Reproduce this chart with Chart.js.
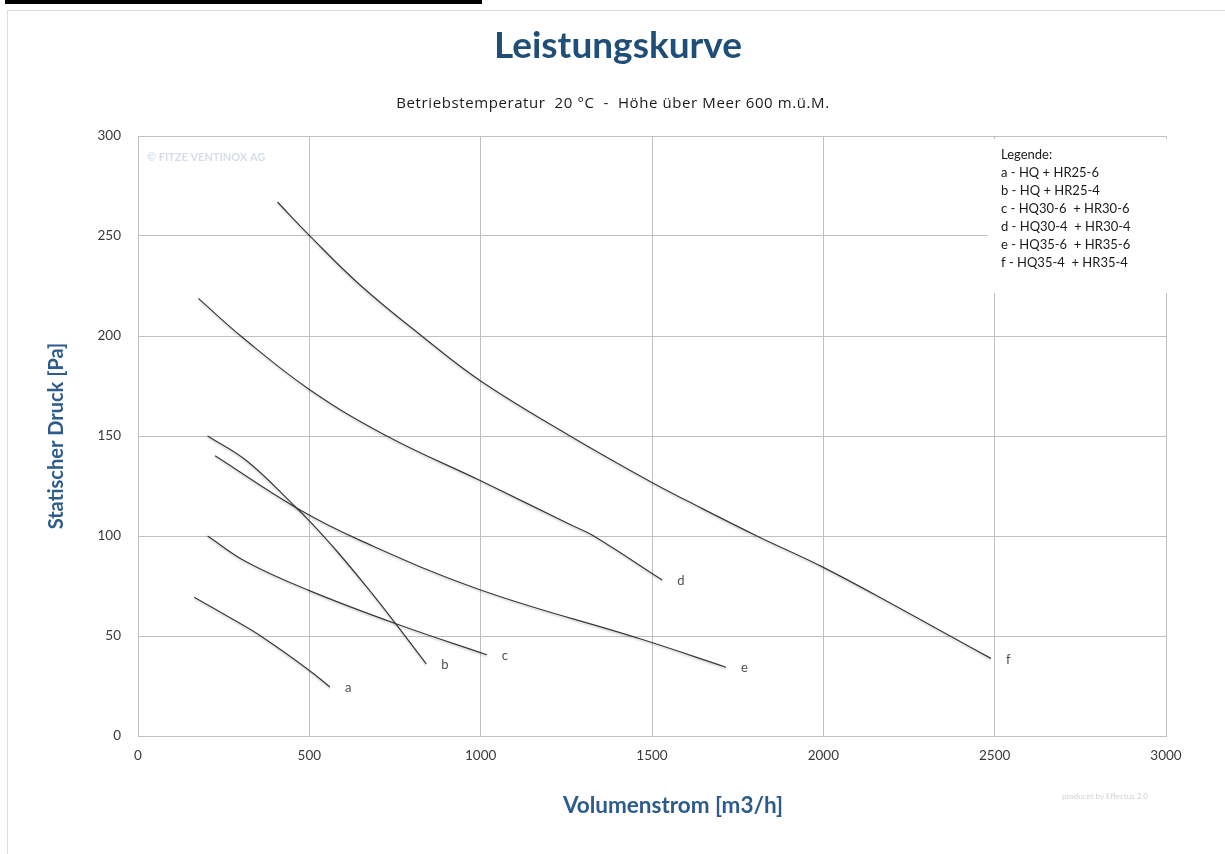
<!DOCTYPE html>
<html>
<head>
  <script src="https://cdn.jsdelivr.net/npm/chart.js@4.4.1/dist/chart.umd.min.js"></script>
  <style>
    * { margin: 0; padding: 0; box-sizing: border-box; }
    body { background: #fff; width: 1225px; height: 854px; overflow: hidden; position: relative; font-family: Lato, sans-serif; }
    .topbar { position: absolute; left: 5px; top: 0; width: 477px; height: 4px; background: #000; }
    .frame { position: absolute; left: 7px; top: 10px; width: 1230px; height: 860px; border-left: 1px solid #dedede; border-top: 1px solid #dedede; }
    #chart { position: absolute; left: 0; top: 0; }
    .title { position: absolute; left: 0; top: 22px; width: 1236px; text-align: center; font: bold 37px/44px Lato, sans-serif; color: #1f4e79; }
    .subtitle { position: absolute; left: 0; top: 92px; width: 1226px; text-align: center; font: 15px/20px "Open Sans", sans-serif; letter-spacing: 0.6px; color: #1a1a1a; white-space: pre; }
  </style>
</head>
<body>
  <div class="topbar"></div>
  <div class="frame"></div>
  <canvas id="chart" width="1225" height="854"></canvas>
  <div class="title">Leistungskurve</div>
  <div class="subtitle">Betriebstemperatur  20 °C  -  Höhe über Meer 600 m.ü.M.</div>

  <script>
    // Volumenstrom [m3/h] / statischer Druck [Pa]
    const curveNames = ['a', 'b', 'c', 'd', 'e', 'f'];

    const aX = [164, 283, 356, 500, 560];
    const aY = [69.4, 57.7, 50.2, 32.8, 24.5];

    const bX = [203, 317, 463, 500, 580, 668, 745, 841];
    const bY = [150, 137.6, 114, 107.6, 92.5, 74.4, 57.7, 36.1];

    const cX = [203, 317, 500, 755, 1018];
    const cY = [100, 87, 72.7, 56, 40.6];

    const dX = [176, 300, 500, 726, 1000, 1270, 1330, 1530];
    const dY = [218.8, 200, 173.3, 150, 127.6, 105, 100, 78];

    const eX = [225, 463, 650, 1000, 1465, 1716];
    const eY = [140.1, 114, 97.7, 73, 48.6, 34.4];

    const fX = [407, 500, 648, 828, 1000, 1261, 1500, 1602, 1806, 2000, 2244, 2370, 2489];
    const fY = [267, 250.3, 225.5, 200, 177.5, 150, 126.7, 117.6, 100, 84.3, 61.9, 50, 38.8];

    const legendLines = [
      'Legende:',
      'a - HQ + HR25-6',
      'b - HQ + HR25-4',
      'c - HQ30-6  + HR30-6',
      'd - HQ30-4  + HR30-4',
      'e - HQ35-6  + HR35-6',
      'f - HQ35-4  + HR35-4'
    ];

    const xs = [aX, bX, cX, dX, eX, fX];
    const ys = [aY, bY, cY, dY, eY, fY];

    const blue = '#2c5b8c';
    const gridColor = '#c0c0c0';

    const datasets = curveNames.map((name, i) => ({
      label: name,
      data: xs[i].map((x, j) => ({ x: x, y: ys[i][j] })),
      borderColor: '#363636',
      borderWidth: 1.2,
      pointRadius: 0,
      fill: false,
      tension: 0.4
    }));

    // Buchstaben am Kurvenende, Legende, Wasserzeichen, x-Titel
    const extras = {
      id: 'extras',
      beforeDatasetsDraw(chart) {
        const ctx = chart.ctx;
        ctx.save();
        ctx.shadowColor = 'rgba(0,0,0,0.22)';
        ctx.shadowBlur = 2;
        ctx.shadowOffsetY = 1.5;
      },
      afterDatasetsDraw(chart) {
        chart.ctx.restore();
      },
      afterDraw(chart) {
        const ctx = chart.ctx;
        const area = chart.chartArea;
        ctx.save();

        // watermark
        ctx.font = 'bold 11px Lato';
        ctx.fillStyle = '#d4dde9';
        ctx.textBaseline = 'middle';
        ctx.textAlign = 'left';
        ctx.fillText('© FITZE VENTINOX AG', area.left + 9, area.top + 21);

        // curve letters
        ctx.font = '13px Lato';
        ctx.fillStyle = '#505050';
        chart.data.datasets.forEach((ds, i) => {
          const pts = chart.getDatasetMeta(i).data;
          const last = pts[pts.length - 1];
          ctx.fillText(ds.label, last.x + 15, last.y + 1);
        });

        // legend box
        const bx = area.right - 178;
        const by = area.top + 3;
        ctx.fillStyle = '#fff';
        ctx.fillRect(bx, by, 180, 154);
        ctx.fillStyle = '#1a1a1a';
        ctx.font = '13px Lato';
        legendLines.forEach((t, i) => {
          ctx.fillText(t, bx + 13, by + 16 + i * 18);
        });

        // x axis title
        ctx.font = 'bold 22.5px Lato';
        ctx.fillStyle = blue;
        ctx.textAlign = 'center';
        ctx.fillText('Volumenstrom [m3/h]', (area.left + area.right) / 2 + 21, 806);

        // footer
        ctx.font = '8px Lato';
        ctx.fillStyle = '#d2d2d2';
        ctx.textAlign = 'left';
        ctx.fillText('producet by Effectus 2.0', 1062, 796);
        ctx.restore();
      }
    };

    new Chart(document.getElementById('chart'), {
      type: 'line',
      data: { datasets: datasets },
      plugins: [extras],
      options: {
        responsive: false,
        animation: false,
        devicePixelRatio: 1,
        layout: { padding: { left: 0, right: 59, top: 136, bottom: 0 } },
        plugins: {
          legend: { display: false },
          tooltip: { enabled: false }
        },
        scales: {
          x: {
            type: 'linear',
            min: 0,
            max: 3000,
            ticks: {
              stepSize: 500, padding: 12, color: '#3a3a3a', font: { family: 'Lato', size: 13.5 },
              callback: v => String(v)
            },
            grid: { color: gridColor, drawTicks: false },
            border: { color: gridColor },
            afterFit(s) { s.height = 118; }
          },
          y: {
            min: 0,
            max: 300,
            ticks: {
              stepSize: 50, padding: 17, color: '#3a3a3a', font: { family: 'Lato', size: 13.5 },
              callback: v => String(v)
            },
            grid: { color: gridColor, drawTicks: false },
            border: { color: gridColor },
            title: {
              display: true,
              text: 'Statischer Druck [Pa]',
              color: blue,
              font: { family: 'Lato', size: 20, weight: 'bold' },
              padding: { top: 45, bottom: 0 }
            },
            afterFit(s) { s.width = 138; }
          }
        }
      }
    });
  </script>
</body>
</html>
